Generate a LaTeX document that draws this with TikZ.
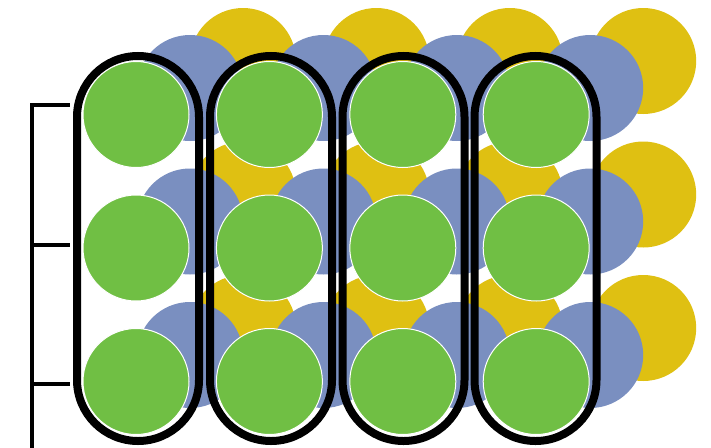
\documentclass[tikz,border=0pt]{standalone}
\definecolor{ballgreen}{RGB}{112,191,68}
\definecolor{ballblue}{RGB}{122,143,192}
\definecolor{ballyellow}{RGB}{223,192,18}
\tikzset{
  ball/.style={circle, minimum size=106pt, inner sep=0pt, outer sep=0pt},
  backball/.style={ball, fill=ballyellow},
  midball/.style={ball, fill=ballblue},
  frontball/.style={ball, fill=ballgreen, draw=white, line width=1pt},
  capsule/.style={draw=black, line width=8pt},
  bracket/.style={draw=black, line width=4pt}
}
\begin{document}
\begin{tikzpicture}[x=1pt, y=-1pt]
\useasboundingbox (0,0) rectangle (711,447);
% back layer (yellow), middle layer (blue), front layer (green)
\foreach \c/\x in {1/0,2/1,3/2,4/3} {
  \foreach \r/\y in {1/0,2/1,3/2} {
    \node[backball] (y\c\r) at ({243+133.4*\x},{61+133.5*\y}) {};
  }
}
\foreach \c/\x in {1/0,2/1,3/2,4/3} {
  \foreach \r/\y in {1/0,2/1,3/2} {
    \node[midball] (b\c\r) at ({190+133.4*\x},{88+133.5*\y}) {};
  }
}
\foreach \c/\x in {1/0,2/1,3/2,4/3} {
  \foreach \r/\y in {1/0,2/1,3/2} {
    \node[frontball] (g\c\r) at ({136+133.4*\x},{114.5+133.5*\y}) {};
  }
}
% capsules around each front column: two straight sides joined by half circles
\foreach \cx in {138,271,403.5,535.5} {
  \draw[capsule] ({\cx-61},117) arc[start angle=180, end angle=360, radius=61]
    -- ({\cx+61},380) arc[start angle=0, end angle=180, radius=61] -- cycle;
}
% bracket on the left
\coordinate (bt) at (32,105);
\coordinate (bb) at (32,450);
\coordinate (t1) at (70,105);
\coordinate (m2) at (32,245);
\coordinate (t2) at (70,245);
\coordinate (m3) at (32,384);
\coordinate (t3) at (70,384);
\draw[bracket] (bb) -- (bt) -- (t1);
\draw[bracket] (m2) -- (t2);
\draw[bracket] (m3) -- (t3);
\end{tikzpicture}
\end{document}
